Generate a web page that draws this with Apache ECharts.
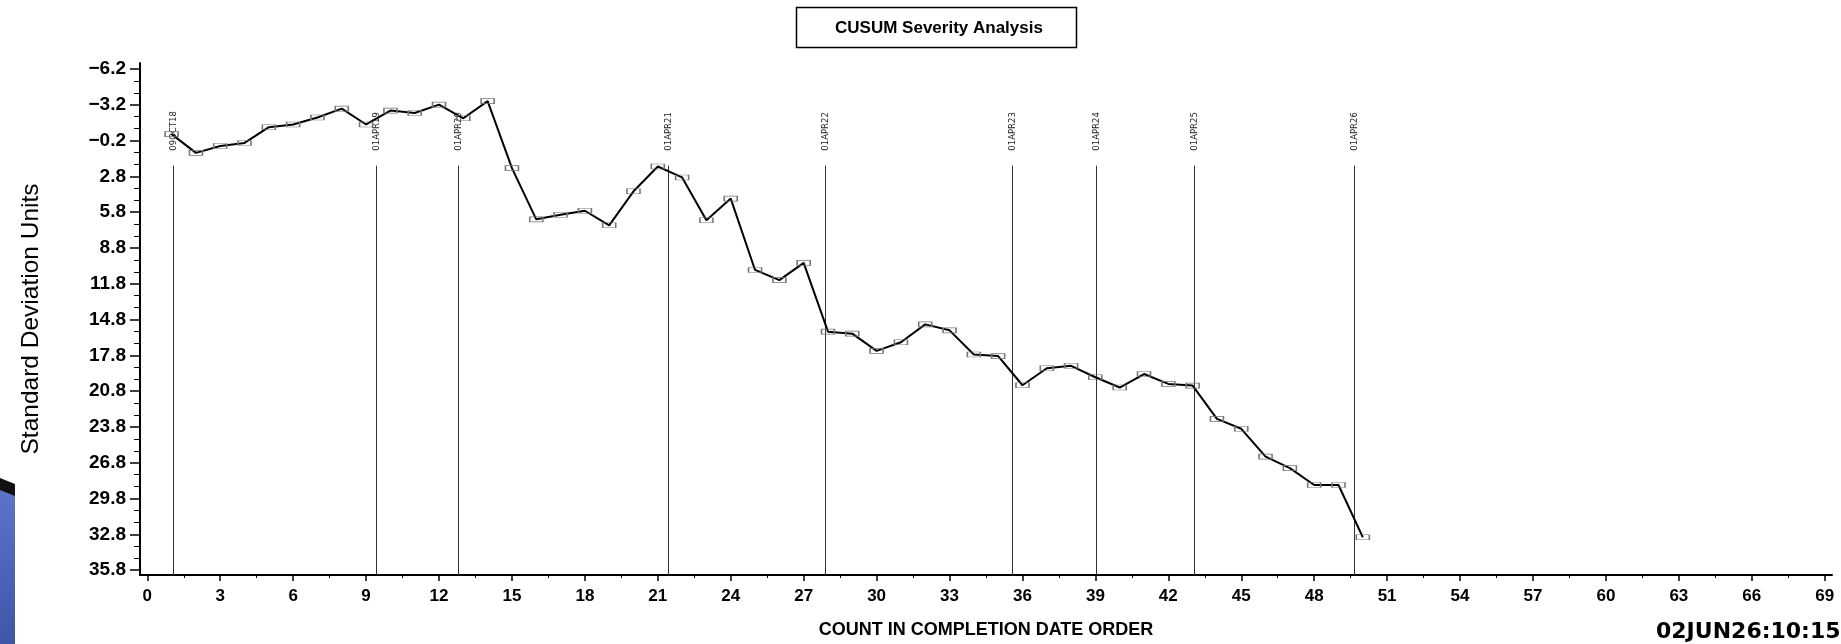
<!DOCTYPE html>
<html>
<head>
<meta charset="utf-8">
<script src="https://cdn.jsdelivr.net/npm/echarts@6/dist/echarts.min.js"></script>
<style>
html,body{margin:0;padding:0;background:#fff;}
#chart{width:1841px;height:644px;}
</style>
</head>
<body>
<div id="chart"></div>
<script>
// ---- data ----
const counts = [1,2,3,4,5,6,7,8,9,10,11,12,13,14,15,16,17,18,19,20,21,22,23,24,25,26,27,28,29,30,31,32,33,34,35,36,37,38,39,40,41,42,43,44,45,46,47,48,49,50];
const cusum = [-0.74,0.83,0.25,0.00,-1.32,-1.55,-2.13,-2.88,-1.55,-2.71,-2.51,-3.21,-2.07,-3.51,2.11,6.40,6.01,5.68,6.90,4.05,1.97,2.89,6.48,4.66,10.64,11.49,10.05,15.81,15.98,17.42,16.70,15.20,15.70,17.72,17.86,20.30,18.88,18.67,19.63,20.49,19.36,20.19,20.33,23.12,23.95,26.28,27.25,28.66,28.66,33.04];
const refDates = ['09OCT18','01APR19','01APR20','01APR21','01APR22','01APR23','01APR24','01APR25','01APR26'];
const refPositions = [1.05,9.40,12.77,21.43,27.86,35.57,39.04,43.04,49.65];
const xTicks = [0,3,6,9,12,15,18,21,24,27,30,33,36,39,42,45,48,51,54,57,60,63,66,69];
const yTicks = [-6.2,-3.2,-0.2,2.8,5.8,8.8,11.8,14.8,17.8,20.8,23.8,26.8,29.8,32.8,35.8];
const titleText = 'CUSUM Severity Analysis';
const xName = 'COUNT IN COMPLETION DATE ORDER';
const yName = 'Standard Deviation Units';
const stamp = '02JUN26:10:15';

// minor tick positions (midpoints on x, unit steps on y)
const xMinor = [];
for (let i = 0; i < xTicks.length - 1; i++) xMinor.push((xTicks[i] + xTicks[i+1]) / 2);
const yMinor = [];
for (let i = 0; i < yTicks.length - 1; i++) {
  yMinor.push(+(yTicks[i] + 1).toFixed(1), +(yTicks[i] + 2).toFixed(1));
}

const FONT = '"Liberation Sans", Arial, sans-serif';
const chart = echarts.init(document.getElementById('chart'), null, {renderer: 'canvas'});

const fmtY = v => (v < 0 ? '\u2212' : '') + Math.abs(v).toFixed(1);

const option = {
  animation: false,
  backgroundColor: '#fff',
  title: {
    text: titleText,
    left: 934, top: 15, textAlign: 'center',
    textStyle: {fontFamily: FONT, fontWeight: 'bold', fontSize: 17, color: '#000'}
  },
  grid: {left: 140, right: 9, top: 63, bottom: 65, containLabel: false},
  xAxis: [{
    type: 'value', min: -0.3, max: 69.3, position: 'bottom',
    name: xName, nameLocation: 'middle', nameGap: 46,
    nameTextStyle: {fontFamily: FONT, fontWeight: 'bold', fontSize: 18, color: '#000'},
    axisLine: {show: true, onZero: false, lineStyle: {color: '#000', width: 2}},
    axisTick: {show: true, customValues: xTicks, length: 6, lineStyle: {color: '#000', width: 1.5}},
    axisLabel: {customValues: xTicks, margin: 13, fontFamily: FONT, fontWeight: 'bold', fontSize: 17, color: '#000'},
    splitLine: {show: false}
  }, {
    type: 'value', min: -0.3, max: 69.3, position: 'bottom',
    axisLine: {show: false, onZero: false},
    axisTick: {show: true, customValues: xMinor, length: 3, lineStyle: {color: '#000', width: 1}},
    axisLabel: {show: false},
    splitLine: {show: false}
  }],
  yAxis: [{
    type: 'value', min: -6.7, max: 36.2, inverse: true, position: 'left',
    name: yName, nameLocation: 'middle', nameGap: 96, nameRotate: 90,
    nameTextStyle: {fontFamily: FONT, fontSize: 24.5, color: '#000'},
    axisLine: {show: true, onZero: false, lineStyle: {color: '#000', width: 2}},
    axisTick: {show: true, customValues: yTicks, length: 10, lineStyle: {color: '#000', width: 1.5}},
    axisLabel: {customValues: yTicks, margin: 14, formatter: fmtY, fontFamily: FONT, fontWeight: 'bold', fontSize: 19, color: '#000'},
    splitLine: {show: false}
  }, {
    type: 'value', min: -6.7, max: 36.2, inverse: true, position: 'left',
    axisLine: {show: false, onZero: false},
    axisTick: {show: true, customValues: yMinor, length: 6, lineStyle: {color: '#000', width: 1}},
    axisLabel: {show: false},
    splitLine: {show: false}
  }],
  graphic: [
    {type: 'rect', left: 794, top: 5, shape: {width: 280, height: 40}, style: {fill: 'none', stroke: '#000', lineWidth: 1.5}, z: 10},
    {type: 'text', left: 1656, top: 621, style: {text: stamp, font: 'bold 22px "DejaVu Sans", sans-serif', fill: '#000'}},
    {type: 'rect', left: 0, top: 488, shape: {width: 15, height: 156}, style: {fill: {type: 'linear', x: 0, y: 0, x2: 1, y2: 1, colorStops: [{offset: 0, color: '#5d74c8'}, {offset: 1, color: '#3e55a8'}]}}},
    {type: 'polygon', shape: {points: [[0, 478], [15, 484], [15, 496], [0, 490]]}, style: {fill: '#111'}}
  ],
  series: [{
    type: 'custom',
    xAxisIndex: 0, yAxisIndex: 0,
    data: refPositions.map((p, i) => [p, i]),
    clip: false,
    silent: true,
    renderItem: function (params, api) {
      const x = Math.round(api.coord([api.value(0), 0])[0]) + 0.5;
      const top = api.coord([0, 1.9])[1];
      const bottom = params.coordSys.y + params.coordSys.height;
      return {
        type: 'group',
        children: [
          {type: 'line', shape: {x1: x, y1: top, x2: x, y2: bottom}, style: {stroke: '#333', lineWidth: 1}},
          {type: 'text', x: x, y: top - 15, rotation: Math.PI / 2,
           style: {text: refDates[api.value(1)], textAlign: 'left', textVerticalAlign: 'middle', font: '8.5px "DejaVu Sans", sans-serif', fill: '#222'}}
        ]
      };
    },
    z: 1
  }, {
    type: 'line',
    xAxisIndex: 0, yAxisIndex: 0,
    data: counts.map((c, i) => [c, cusum[i]]),
    symbol: 'rect', symbolSize: [13, 5], showAllSymbol: true,
    lineStyle: {color: '#000', width: 2},
    itemStyle: {color: 'rgba(255,255,255,0)', borderColor: '#777', borderWidth: 1},
    z: 3
  }]
};
chart.setOption(option);
</script>
</body>
</html>
